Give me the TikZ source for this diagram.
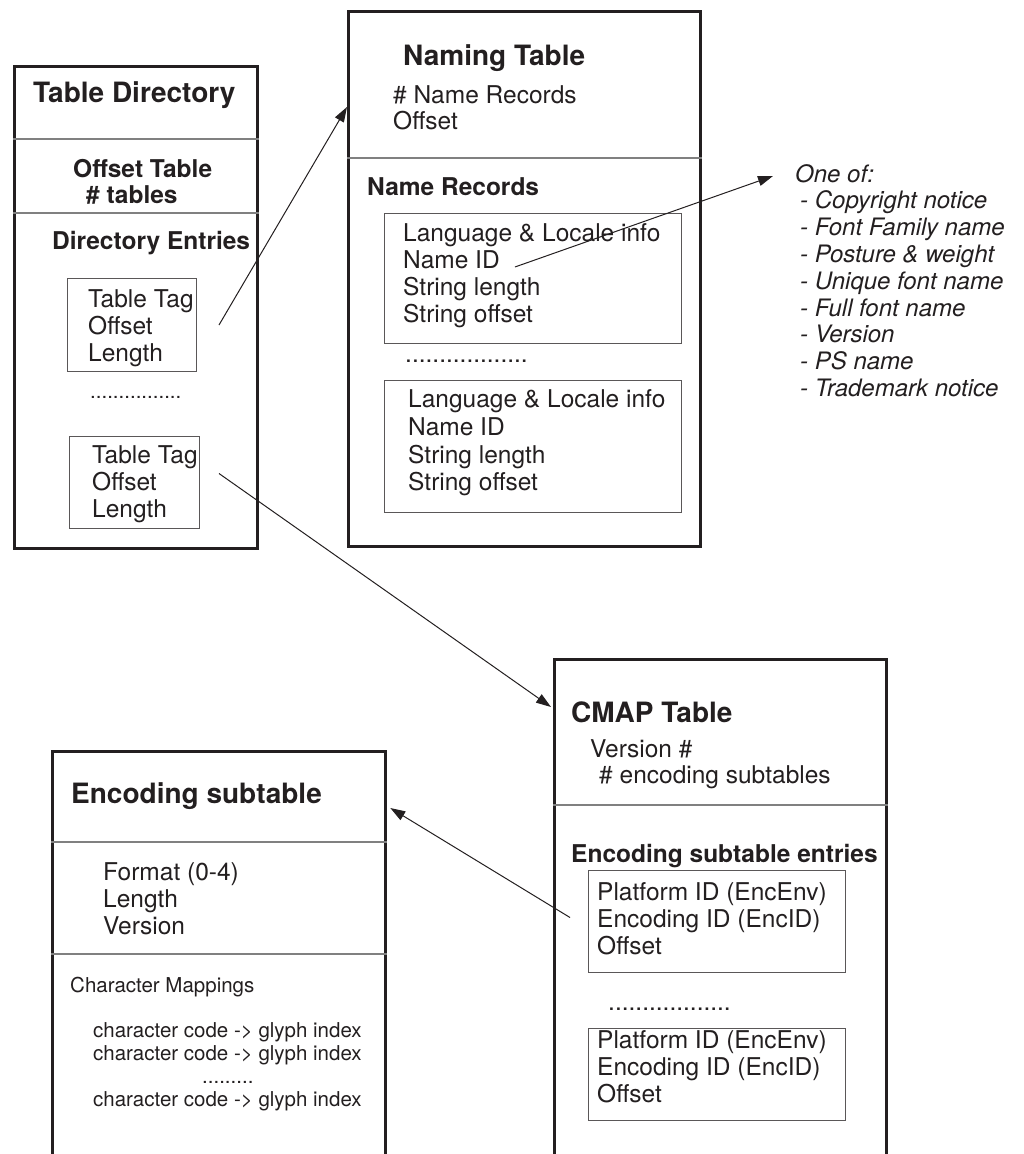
\documentclass[tikz,border=0pt]{standalone}
\usepackage{fontspec}
\setmainfont{TeX Gyre Heros}
\usepackage{tikz}
\usetikzlibrary{calc, arrows.meta}

\definecolor{ink}{HTML}{231F20}
\definecolor{rulegray}{HTML}{808080}

\begin{document}
\begin{tikzpicture}[x=1pt, y=-1pt,
    every node/.style={inner sep=0pt, text=ink},
    outer/.style={draw=ink, line width=3.3pt, anchor=north west},
    inner/.style={draw=ink!75, line width=1pt, anchor=north west},
    divider/.style={draw=rulegray, line width=1.3pt},
    title/.style={anchor=base west, font=\fontsize{28}{32}\selectfont\bfseries},
    head/.style={anchor=base west, font=\fontsize{24.5}{28}\selectfont\bfseries},
    txt/.style={anchor=base west, font=\fontsize{24.5}{28}\selectfont},
    small/.style={anchor=base west, font=\fontsize{20.5}{23}\selectfont},
    note/.style={anchor=base west, font=\fontsize{24}{27}\selectfont\itshape},
    link/.style={draw=ink, line width=1pt, -{Triangle[length=15pt, width=10pt]}}]

    \useasboundingbox (0,0) rectangle (1024,1154);
    \clip (0,0) rectangle (1024,1154);

    % Table directory
    \node[outer, minimum width=243pt, minimum height=482pt] (dir) at (13,65) {};
    \draw[divider] (dir.west |- 0,139) -- (dir.east |- 0,139);
    \draw[divider] (dir.west |- 0,213) -- (dir.east |- 0,213);
    \node[title] (dirT) at (33,102) {Table Directory};
    \node[head] (offT) at (73,177) {Offset Table};
    \node[head] (numT) at (86,203) {\# tables};
    \node[head] (entT) at (52,249) {Directory Entries};

    % Directory entries
    \node[inner, minimum width=129pt, minimum height=93pt] (entA) at (67,278) {};
    \foreach \t [count=\i] in {Table Tag, Offset, Length}
        \node[txt] (entA-\i) at (88, 280+27*\i) {\t};
    \node[small] (entDots) at (90,398) {................};
    \node[inner, minimum width=130pt, minimum height=92pt] (entB) at (69,436) {};
    \foreach \t [count=\i] in {Table Tag, Offset, Length}
        \node[txt] (entB-\i) at (92, 436+27*\i) {\t};

    % Naming table
    \node[outer, minimum width=352pt, minimum height=535pt] (name) at (347,10) {};
    \draw[divider] (name.west |- 0,158) -- (name.east |- 0,158);
    \node[title] (nameT) at (403,65) {Naming Table};
    \node[txt] (nameN) at (393,103) {\# Name Records};
    \node[txt] (nameO) at (393,129) {Offset};
    \node[head] (recT) at (367,195) {Name Records};

    % Name records
    \node[inner, minimum width=297pt, minimum height=130pt] (recA) at (384,213) {};
    \foreach \t [count=\i] in {Language \& Locale info, Name ID, String length, String offset}
        \node[txt] (recA-\i) at (403, 214+27*\i) {\t};
    \node[txt] (recDots) at (405,362) {..................};
    \node[inner, minimum width=297pt, minimum height=132pt] (recB) at (384,380) {};
    \foreach \t [count=\i] in {Language \& Locale info, Name ID, String length, String offset}
        \node[txt] (recB-\i) at (408, 380+27.7*\i) {\t};

    % Name ID values
    \node[note] (oneOf) at (795,182) {One of:};
    \foreach \t [count=\i] in {Copyright notice, Font Family name, Posture \& weight,
        Unique font name, Full font name, Version, PS name, Trademark notice}
        \node[note] (oneOf-\i) at (800, 182+26.8*\i) {- \t};

    % CMAP table
    \node[outer, minimum width=332pt, minimum height=522pt] (cmap) at (553,658) {};
    \draw[divider] (cmap.west |- 0,805) -- (cmap.east |- 0,805);
    \node[title] (cmapT) at (571,722) {CMAP Table};
    \node[txt] (cmapV) at (590,757) {Version \#};
    \node[txt] (cmapN) at (599,783) {\# encoding subtables};
    \node[head] (subT) at (571,862) {Encoding subtable entries};

    % Encoding subtable entries
    \node[inner, minimum width=257pt, minimum height=102pt] (subA) at (588,870) {};
    \foreach \t [count=\i] in {Platform ID (EncEnv), Encoding ID (EncID), Offset}
        \node[txt] (subA-\i) at (597, 873+27*\i) {\t};
    \node[txt] (subDots) at (608,1010) {..................};
    \node[inner, minimum width=257pt, minimum height=92pt] (subB) at (588,1028) {};
    \foreach \t [count=\i] in {Platform ID (EncEnv), Encoding ID (EncID), Offset}
        \node[txt] (subB-\i) at (597, 1021+27*\i) {\t};

    % Encoding subtable
    \node[outer, minimum width=333pt, minimum height=430pt] (enc) at (51,750) {};
    \draw[divider] (enc.west |- 0,842) -- (enc.east |- 0,842);
    \draw[divider] (enc.west |- 0,954) -- (enc.east |- 0,954);
    \node[title] (encT) at (71,803) {Encoding subtable};
    \foreach \t [count=\i] in {Format (0-4), Length, Version}
        \node[txt] (encF-\i) at (103, 853+27*\i) {\t};
    \node[small] (mapT) at (70,992) {Character Mappings};
    \node[small] (map-1) at (93,1037) {character code -> glyph index};
    \node[small] (map-2) at (93,1060) {character code -> glyph index};
    \node[small] (mapDots) at (202,1083) {.........};
    \node[small] (map-3) at (93,1106) {character code -> glyph index};

    % Links
    \draw[link] ($(entA.east)+(22,0)$) -- ($(name.north west)+(0,97)$);
    \draw[link] ($(entB.east)+(19,-9)$) -- ($(cmap.north west)+(-2,49)$);
    \draw[link] ($(recA-2.base east)+(15,-1)$) -- ($(oneOf.base west)+(-22,-6)$);
    \draw[link] ($(subA.west)+(-18,-4)$) -- ($(enc.north east)+(3,58)$);
\end{tikzpicture}
\end{document}
